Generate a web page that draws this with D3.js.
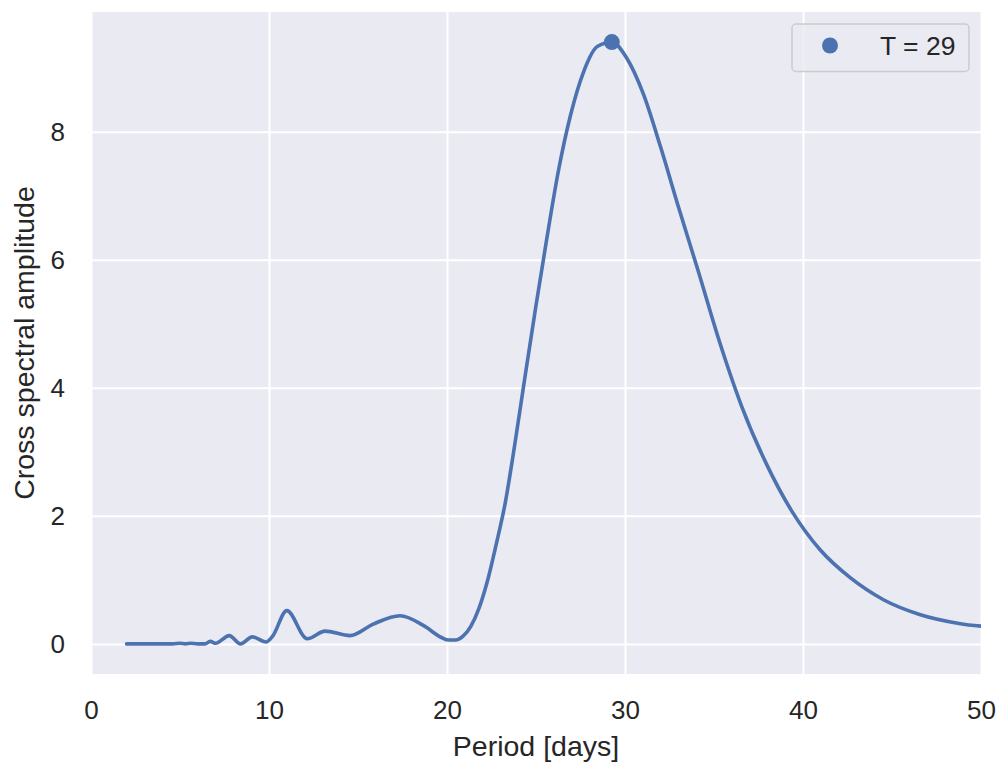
<!DOCTYPE html>
<html>
<head>
<meta charset="utf-8">
<script src="https://cdn.jsdelivr.net/npm/d3@7"></script>
<style>
  body { margin: 0; background: #fff; }
  text { font-family: "Liberation Sans", Arial, sans-serif; fill: #262626; }
</style>
</head>
<body>
<div id="chart"></div>
<script>
(function() {
// periods [days] and cross spectral amplitude
const periods = [2.0, 3.0, 4.0, 4.6, 5.0, 5.3, 5.6, 6.0, 6.4, 6.7, 7.0, 7.77, 8.4, 9.06, 9.83,
  10.2, 11.0, 12.15, 13.15, 14.55, 15.86, 17.36, 18.67, 19.69, 20.08, 20.48, 20.9, 21.33,
  21.79, 22.26, 22.76, 23.27, 23.81, 24.38, 24.98, 25.6, 26.26, 26.95, 27.68, 28.44, 29.26,
  30.12, 31.03, 32.0, 33.03, 34.13, 35.31, 36.57, 37.93, 39.38, 40.96, 42.67, 44.52, 46.55,
  48.76, 51.2]
const amplitude = [0, 0, 0, 0, 0.01, 0, 0.01, 0, 0, 0.04, 0.01, 0.13, 0, 0.11, 0.03,
  0.12, 0.52, 0.08, 0.2, 0.13, 0.31, 0.44, 0.29, 0.1, 0.06, 0.06, 0.12, 0.27,
  0.55, 0.97, 1.55, 2.2, 3.12, 4.17, 5.25, 6.32, 7.39, 8.27, 8.94, 9.33, 9.40,
  9.14, 8.59, 7.76, 6.8, 5.81, 4.72, 3.70, 2.82, 2.07, 1.47, 1.03, 0.69, 0.46,
  0.32, 0.25]
const peakPeriod = 29.26, peakAmp = 9.40
const legendLabel = 'T = 29'
const xTicks = [0, 10, 20, 30, 40, 50]
const yTicks = [0, 2, 4, 6, 8]

const width = 1004, height = 766
const margin = {top: 12, right: 23, bottom: 92, left: 91}
const innerW = width - margin.left - margin.right,
      innerH = height - margin.top - margin.bottom
const blue = '#4c72b0'
const fontFamily = '"Liberation Sans", Arial, sans-serif'

const data = periods.map((p, i) => ({p: p, a: amplitude[i]}))

const svg = d3.select('#chart')
  .append('svg')
  .attr('width', width)
  .attr('height', height)

const g = svg.append('g')
  .attr('transform', 'translate(' + margin.left + ',' + margin.top + ')')

const x = d3.scaleLinear().domain([0, 50]).range([0, innerW])
const y = d3.scaleLinear().domain([-0.47, 9.87]).range([innerH, 0])

g.append('rect')
  .attr('width', innerW)
  .attr('height', innerH)
  .attr('fill', '#eaeaf2')

// grid
g.append('g')
  .call(d3.axisBottom(x).tickValues(xTicks).tickSize(innerH).tickFormat(''))
  .call(s => s.select('.domain').remove())
  .call(s => s.selectAll('line').attr('stroke', '#fff').attr('stroke-width', 2))

g.append('g')
  .call(d3.axisLeft(y).tickValues(yTicks).tickSize(-innerW).tickFormat(''))
  .call(s => s.select('.domain').remove())
  .call(s => s.selectAll('line').attr('stroke', '#fff').attr('stroke-width', 2))

// tick labels
g.append('g')
  .attr('transform', 'translate(0,' + innerH + ')')
  .call(d3.axisBottom(x).tickValues(xTicks).tickSize(0).tickPadding(27))
  .attr('font-size', 26)
  .attr('font-family', fontFamily)
  .call(s => s.select('.domain').remove())
  .call(s => s.selectAll('text').attr('fill', '#262626'))

g.append('g')
  .call(d3.axisLeft(y).tickValues(yTicks).tickSize(0).tickPadding(26))
  .attr('font-size', 26)
  .attr('font-family', fontFamily)
  .call(s => s.select('.domain').remove())
  .call(s => s.selectAll('text').attr('fill', '#262626'))

svg.append('defs').append('clipPath').attr('id', 'clip')
  .append('rect').attr('width', innerW).attr('height', innerH)

const line = d3.line()
  .x(d => x(d.p))
  .y(d => y(d.a))
  .curve(d3.curveMonotoneX)

g.append('path')
  .datum(data)
  .attr('clip-path', 'url(#clip)')
  .attr('fill', 'none')
  .attr('stroke', blue)
  .attr('stroke-width', 3.6)
  .attr('stroke-linejoin', 'round')
  .attr('stroke-linecap', 'round')
  .attr('d', line)

g.append('circle')
  .attr('cx', x(peakPeriod))
  .attr('cy', y(peakAmp))
  .attr('r', 8)
  .attr('fill', blue)

// axis labels
svg.append('text')
  .attr('x', margin.left + innerW / 2)
  .attr('y', 756)
  .attr('text-anchor', 'middle')
  .attr('font-size', 28.5)
  .text('Period [days]')

svg.append('text')
  .attr('transform', 'translate(33.5,' + (margin.top + innerH / 2) + ') rotate(-90)')
  .attr('text-anchor', 'middle')
  .attr('font-size', 28.5)
  .text('Cross spectral amplitude')

// legend
const lg = svg.append('g').attr('transform', 'translate(792,24)')
lg.append('rect')
  .attr('width', 177)
  .attr('height', 47.5)
  .attr('rx', 4)
  .attr('fill', '#eaeaf2')
  .attr('fill-opacity', 0.8)
  .attr('stroke', '#cccccc')
  .attr('stroke-width', 1.5)
lg.append('circle')
  .attr('cx', 38)
  .attr('cy', 21.5)
  .attr('r', 8)
  .attr('fill', blue)
lg.append('text')
  .attr('x', 88)
  .attr('y', 31)
  .attr('font-size', 26.5)
  .text(legendLabel)
})()
</script>
</body>
</html>
